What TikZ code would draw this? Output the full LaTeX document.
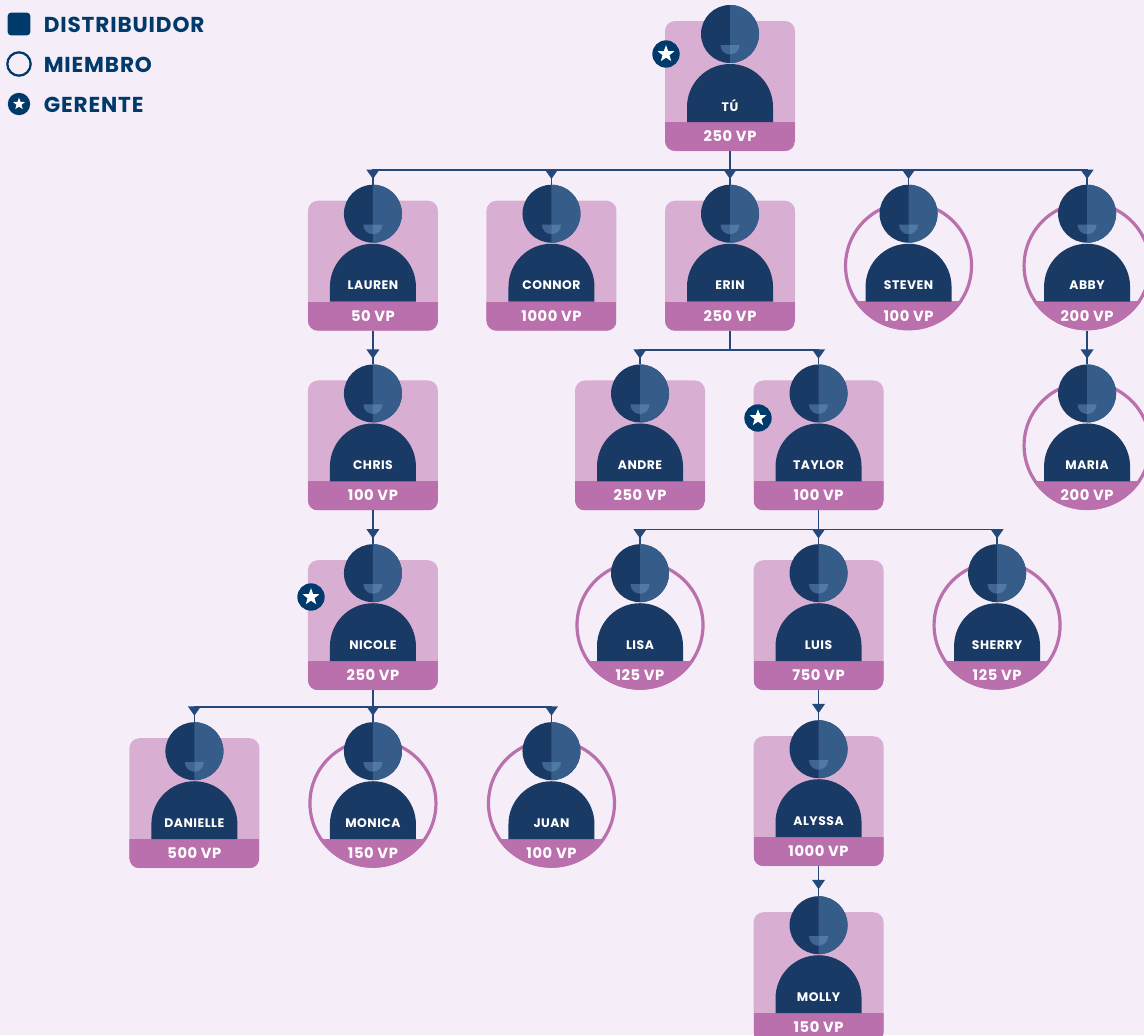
\documentclass[tikz,border=0pt]{standalone}
\usepackage{fontspec}
\setmainfont{Poppins}
\newfontfamily\spacedfont[LetterSpace=4]{Poppins}
\usetikzlibrary{positioning, arrows.meta, shapes.geometric}

\definecolor{pagebg}{HTML}{F5EEF8}
\definecolor{cardpink}{HTML}{D8AFD2}
\definecolor{bandpink}{HTML}{BA70AC}
\definecolor{navy}{HTML}{1A3A66}
\definecolor{navylight}{HTML}{365D8A}
\definecolor{smiledark}{HTML}{3F6594}
\definecolor{smilelight}{HTML}{5079A6}
\definecolor{legendblue}{HTML}{003A6B}
\definecolor{wireblue}{HTML}{24487A}

% head, body and the two texts, common to both kinds of member
\newcommand{\personparts}[3]{
  \begin{scope}[shift={(#1.center)}]
    \fill[navy] (-43,-36) -- (-43,-21) arc[start angle=180, end angle=0, radius=43] -- (43,-36) -- cycle;
    \node[headbox] (#1-head) at (0,52) {};
    \fill[navylight] (0,81) arc[start angle=90, end angle=-90, radius=29] -- cycle;
    \fill[smiledark] (-9.5,41) arc[start angle=180, end angle=270, radius=9.5] -- (0,41) -- cycle;
    \fill[smilelight] (0,41) -- (0,31.5) arc[start angle=270, end angle=360, radius=9.5] -- cycle;
    \node[nametext] (#1-name) at (0,-19.5) {#2};
    \node[vptext] (#1-vp) at (0,-50) {#3};
  \end{scope}
}
% square member
\newcommand{\distributor}[4]{
  \node[slotbox, fill=cardpink, rounded corners=7.5pt, #1] (#2) {};
  \begin{scope}
    \clip[rounded corners=7.5pt] (#2.south west) rectangle (#2.north east);
    \fill[bandpink] (#2.south west) rectangle ([yshift=21.75pt]#2.south east);
  \end{scope}
  \personparts{#2}{#3}{#4}
}
% round member
\newcommand{\member}[4]{
  \node[slotbox, #1] (#2) {};
  \begin{scope}
    \clip (#2.south west) rectangle ([yshift=21.75pt]#2.south east);
    \fill[bandpink] (#2.center) circle[radius=64.5];
  \end{scope}
  \draw[bandpink, line width=2.4pt] (#2.center) circle[radius=63];
  \personparts{#2}{#3}{#4}
}
% parent to child, with the tip just under the bar
\newcommand{\wirelink}[3][19]{
  \draw[wire] (#2.south) -- ++(0,-#1) -| (#3-head.north);
  \path (#2.south) -- ++(0,-#1) coordinate (#3-bar);
  \draw[wire, -{Triangle[width=9.5pt, length=7pt]}] (#3-head.north |- #3-bar) -- ++(0,-9);
}
% star in a disc
\newcommand{\gerentebadge}[4]{
  \node[badgedisc, #3] (#1) at #2 {};
  \node[badgestar, #4] (#1-star) at (#1.center) {};
}

\begin{document}
\begin{tikzpicture}[x=0.75pt, y=0.75pt]
    \tikzset{
      node distance=37.3pt and 36.4pt, % gaps between the 130px slots
      slotbox/.style={minimum size=97.5pt, inner sep=0pt, outer sep=0pt},
      headbox/.style={circle, fill=navy, minimum size=43.5pt, inner sep=0pt, outer sep=0pt},
      nametext/.style={text=white, font=\spacedfont\bfseries\fontsize{9.3}{10}\selectfont, inner sep=0pt},
      vptext/.style={text=white, font=\spacedfont\bfseries\fontsize{11}{12}\selectfont, inner sep=0pt},
      wire/.style={draw=wireblue, line width=1.2pt},
      badgedisc/.style={circle, fill=legendblue, minimum size=20.5pt, inner sep=0pt},
      badgestar/.style={star, star points=5, star point ratio=2.4, fill=white, minimum size=13.2pt, inner sep=0pt},
      legendtext/.style={text=legendblue, anchor=west, inner sep=0pt, font=\spacedfont\bfseries\fontsize{16.2}{18}\selectfont},
    }
    \clip (0,0) rectangle (1144,-1035);
    \fill[pagebg] (0,0) rectangle (1144,-1035);

    % legend
    \node[fill=legendblue, rounded corners=2.5pt, minimum size=17pt, inner sep=0pt] (keysquare) at (19,-24) {};
    \node[circle, draw=legendblue, line width=1.7pt, minimum size=17.5pt, inner sep=0pt] (keyring) at (19,-64) {};
    \gerentebadge{keystar}{(19,-104)}{minimum size=16.8pt}{minimum size=9.5pt}
    \node[legendtext] (keytext1) at (43.5,-25) {DISTRIBUIDOR};
    \node[legendtext] (keytext2) at (43.5,-65) {MIEMBRO};
    \node[legendtext] (keytext3) at (43.5,-105) {GERENTE};

    % members
    \distributor{at={(730,-86)}}{tu}{TÚ}{250 VP}
    \distributor{below=of tu}{erin}{ERIN}{250 VP}
    \distributor{left=of erin}{connor}{CONNOR}{1000 VP}
    \distributor{left=of connor}{lauren}{LAUREN}{50 VP}
    \member{right=of erin}{steven}{STEVEN}{100 VP}
    \member{right=of steven}{abby}{ABBY}{200 VP}
    \distributor{below=of lauren}{chris}{CHRIS}{100 VP}
    \distributor{below=of erin, xshift=-67.5pt}{andre}{ANDRE}{250 VP}
    \distributor{right=of andre}{taylor}{TAYLOR}{100 VP}
    \member{below=of abby}{maria}{MARIA}{200 VP}
    \distributor{below=of chris}{nicole}{NICOLE}{250 VP}
    \member{below=of andre}{lisa}{LISA}{125 VP}
    \distributor{below=of taylor}{luis}{LUIS}{750 VP}
    \member{right=of luis}{sherry}{SHERRY}{125 VP}
    \member{below=of nicole, yshift=1.3pt}{monica}{MONICA}{150 VP}
    \distributor{left=of monica}{danielle}{DANIELLE}{500 VP}
    \member{right=of monica}{juan}{JUAN}{100 VP}
    \distributor{below=of luis, yshift=2.8pt}{alyssa}{ALYSSA}{1000 VP}
    \distributor{below=of alyssa, yshift=2.8pt}{molly}{MOLLY}{150 VP}

    % managers
    \gerentebadge{badgetu}{(666,-54)}{}{}
    \gerentebadge{badgetaylor}{(758,-418)}{}{}
    \gerentebadge{badgenicole}{(311,-597)}{}{}

    % connectors
    \wirelink{tu}{lauren}
    \wirelink{tu}{connor}
    \wirelink{tu}{erin}
    \wirelink{tu}{steven}
    \wirelink{tu}{abby}
    \wirelink{lauren}{chris}
    \wirelink{chris}{nicole}
    \wirelink{erin}{andre}
    \wirelink{erin}{taylor}
    \wirelink{abby}{maria}
    \wirelink{taylor}{lisa}
    \wirelink{taylor}{luis}
    \wirelink{taylor}{sherry}
    \wirelink[16.5]{nicole}{danielle}
    \wirelink[16.5]{nicole}{monica}
    \wirelink[16.5]{nicole}{juan}
    \wirelink[14]{luis}{alyssa}
    \wirelink[14]{alyssa}{molly}
  \end{tikzpicture}
\end{document}
